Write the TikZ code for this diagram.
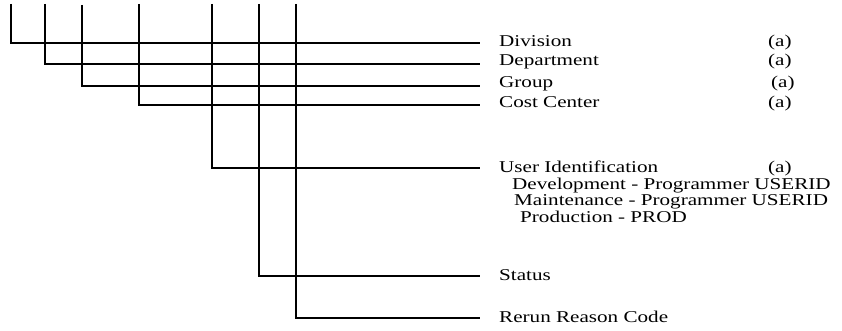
\documentclass[tikz,border=0pt]{standalone}
\usepackage{fontspec}
\setmainfont{Liberation Serif}[FakeStretch=1.28]
\begin{document}
\begin{tikzpicture}[x=1pt,y=-1pt,
  conn/.style={line width=1.4pt},
  lbl/.style={anchor=base west, inner sep=0pt, font=\fontsize{16.5}{18}\selectfont}]
\useasboundingbox (0,0) rectangle (842,331);
% tops of the vertical lines
\coordinate (t1) at (11,4);
\coordinate (t2) at (45,4);
\coordinate (t3) at (82,5);
\coordinate (t4) at (139,4);
\coordinate (t5) at (212,4);
\coordinate (t6) at (259,4);
\coordinate (t7) at (296,4);
% ends of the horizontal lines
\coordinate (e1) at (480,43);
\coordinate (e2) at (480,64);
\coordinate (e3) at (480,86);
\coordinate (e4) at (480,105);
\coordinate (e5) at (480,168);
\coordinate (e6) at (480,276);
\coordinate (e7) at (480,318);
\draw[conn] (t1) |- (e1);
\draw[conn] (t2) |- (e2);
\draw[conn] (t3) |- (e3);
\draw[conn] (t4) |- (e4);
\draw[conn] (t5) |- (e5);
\draw[conn] (t6) |- (e6);
\draw[conn] (t7) |- (e7);
% labels
\node[lbl] (division) at (499,46.5) {Division};
\node[lbl] (divisionA) at (768,46.5) {(a)};
\node[lbl] (department) at (499,65.5) {Department};
\node[lbl] (departmentA) at (768,65.5) {(a)};
\node[lbl] (group) at (499,88) {Group};
\node[lbl] (groupA) at (771,88) {(a)};
\node[lbl] (costcenter) at (499,108) {Cost Center};
\node[lbl] (costcenterA) at (768,108) {(a)};
\node[lbl] (userid) at (499,172.5) {User Identification};
\node[lbl] (useridA) at (768,172.5) {(a)};
\node[lbl] (dev) at (512,189) {Development - Programmer USERID};
\node[lbl] (maint) at (514,205.5) {Maintenance - Programmer USERID};
\node[lbl] (prod) at (520,222) {Production - PROD};
\node[lbl] (status) at (499,280.5) {Status};
\node[lbl] (rerun) at (499,322) {Rerun Reason Code};
\end{tikzpicture}
\end{document}
